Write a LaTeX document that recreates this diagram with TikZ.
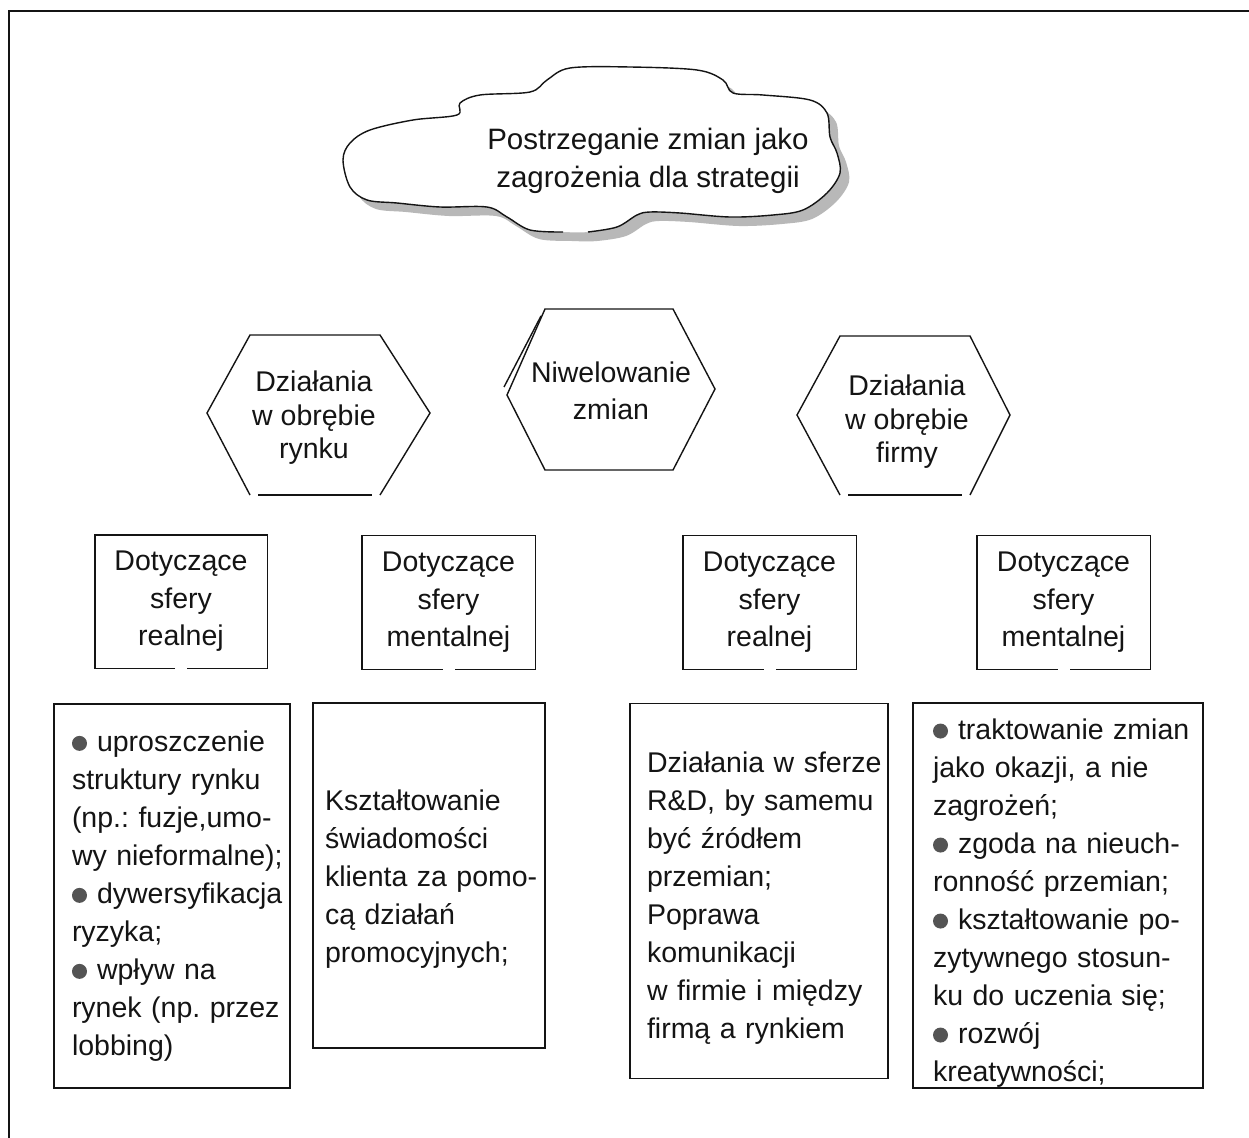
\documentclass[tikz,border=0pt]{standalone}
\usepackage{fontspec}
\setmainfont{Liberation Sans}
\usetikzlibrary{calc}
\definecolor{ink}{gray}{0.08}
\definecolor{bulgray}{gray}{0.33}
\definecolor{shadowgray}{gray}{0.72}
\newcommand\bul{\tikz[baseline=0pt]\fill[bulgray] (7pt,8pt) circle[radius=7.5pt];\hspace{10pt}}
\frenchspacing
\begin{document}
\begin{tikzpicture}[x=1pt,y=-1pt,
  outline/.style={draw=ink, line width=1.4pt},
  txt/.style={font=\fontsize{28.5}{38}\selectfont, inner sep=0pt, text=ink},
  hextxt/.style={txt, align=center, font=\fontsize{28.5}{33.5}\selectfont},
  midbox/.style={txt, align=center, font=\fontsize{28.5}{37.5}\selectfont, minimum width=173pt, minimum height=134pt},
  botbox/.style={txt, draw=ink, line width=1.4pt, align=left, inner ysep=0pt}]
\useasboundingbox (0,0) rectangle (1249,1137);
\fill[white] (0,0) rectangle (1249,1137);
% outer frame
\draw[line width=2.6pt, draw=ink] (9,1140) -- (9,11) -- (1252,11);

% cloud shadow
\fill[shadowgray, shift={(9,9)}] plot[smooth cycle, tension=0.55] coordinates {(588,232) (617,227) (637,215) (650,212) (680,213) (730,217) (773,215) (803,210) (827,193) (840,173) (837,153) (830,137) (827,113) (810,100) (763,95) (733,93) (723,80) (697,70) (630,67) (570,68) (547,80) (530,92) (480,95) (460,103) (457,115) (413,120) (370,130) (350,143) (343,160) (350,187) (367,200) (397,203) (440,207) (487,207) (507,217) (530,230) (563,232)};
% cloud body
\fill[white] plot[smooth cycle, tension=0.55] coordinates {(588,232) (617,227) (637,215) (650,212) (680,213) (730,217) (773,215) (803,210) (827,193) (840,173) (837,153) (830,137) (827,113) (810,100) (763,95) (733,93) (723,80) (697,70) (630,67) (570,68) (547,80) (530,92) (480,95) (460,103) (457,115) (413,120) (370,130) (350,143) (343,160) (350,187) (367,200) (397,203) (440,207) (487,207) (507,217) (530,230) (563,232)};
\draw[outline] plot[smooth, tension=0.55] coordinates {(588,232) (617,227) (637,215) (650,212) (680,213) (730,217) (773,215) (803,210) (827,193) (840,173) (837,153) (830,137) (827,113) (810,100) (763,95) (733,93) (723,80) (697,70) (630,67) (570,68) (547,80) (530,92) (480,95) (460,103) (457,115) (413,120) (370,130) (350,143) (343,160) (350,187) (367,200) (397,203) (440,207) (487,207) (507,217) (530,230) (563,232)};
\node[txt, align=center, font=\fontsize{29.5}{38}\selectfont] (cloud) at (648,161) {Postrzeganie zmian jako\\zagrożenia dla strategii};

% hexagons
\draw[outline] (258,495) -- (372,495);
\draw[outline] (250,495) -- (207,413) -- (250,335) -- (380,335) -- (430,413) -- (380,495);
\node[hextxt] (hexL) at (314,418) {Działania\\w obrębie\\rynku};

\draw[outline] (545,309) -- (673,309) -- (715,389) -- (673,470) -- (545,470) -- (507,395) -- cycle;
\draw[outline] (541,316) -- (504,387);
\node[hextxt, font=\fontsize{28.5}{37}\selectfont] (hexM) at (611,391) {Niwelowanie\\zmian};

\draw[outline] (848,495) -- (962,495);
\draw[outline] (840,495) -- (797,415) -- (840,336) -- (970,336) -- (1010,415) -- (970,495);
\node[hextxt] (hexR) at (907,422) {Działania\\w obrębie\\firmy};

% middle boxes
\node[midbox, minimum width=172pt, minimum height=133pt] (m1) at (181,601.5) {Dotyczące\\sfery\\realnej};
\node[midbox] (m2) at (448.5,602.5) {Dotyczące\\sfery\\mentalnej};
\node[midbox] (m3) at (769.5,602.5) {Dotyczące\\sfery\\realnej};
\node[midbox] (m4) at (1063.5,602.5) {Dotyczące\\sfery\\mentalnej};
\foreach \m in {m1,m2,m3,m4}{
  \draw[outline] ($(\m.south)+(-6,0)$) -- (\m.south west) -- (\m.north west) -- (\m.north east) -- (\m.south east) -- ($(\m.south)+(6,0)$);
}

% bottom boxes
\node[botbox, minimum height=384pt, inner xsep=18pt, text width=200pt] (b1) at (172,896) {%
\mbox{\bul uproszczenie}\\
\mbox{struktury rynku}\\
\mbox{(np.: fuzje,umo-}\\
\mbox{wy nieformalne);}\\
\mbox{\bul dywersyfikacja}\\
\mbox{ryzyka;}\\
\mbox{\bul wpływ na}\\
\mbox{rynek (np. przez}\\
\mbox{lobbing)}};
\node[botbox, minimum height=345pt, inner xsep=12pt, text width=208pt] (b2) at (429,875.5) {%
\mbox{\rule{0pt}{27pt}Kształtowanie}\\
\mbox{świadomości}\\
\mbox{klienta za pomo-}\\
\mbox{cą działań}\\
\mbox{promocyjnych;}};
\node[botbox, minimum height=375pt, inner xsep=17pt, text width=224pt] (b3) at (759,891) {%
\mbox{\rule{0pt}{35pt}Działania w sferze}\\
\mbox{R\&D, by samemu}\\
\mbox{być źródłem}\\
\mbox{przemian;}\\
\mbox{Poprawa}\\
\mbox{komunikacji}\\
\mbox{w firmie i między}\\
\mbox{firmą a rynkiem}};
\node[botbox, minimum height=385pt, inner xsep=20pt, text width=250pt] (b4) at (1058,895.5) {%
\mbox{\rule{0pt}{35pt}\bul traktowanie zmian}\\
\mbox{jako okazji, a nie}\\
\mbox{zagrożeń;}\\
\mbox{\bul zgoda na nieuch-}\\
\mbox{ronność przemian;}\\
\mbox{\bul kształtowanie po-}\\
\mbox{zytywnego stosun-}\\
\mbox{ku do uczenia się;}\\
\mbox{\bul rozwój}\\
\mbox{kreatywności;}};
\end{tikzpicture}
\end{document}
